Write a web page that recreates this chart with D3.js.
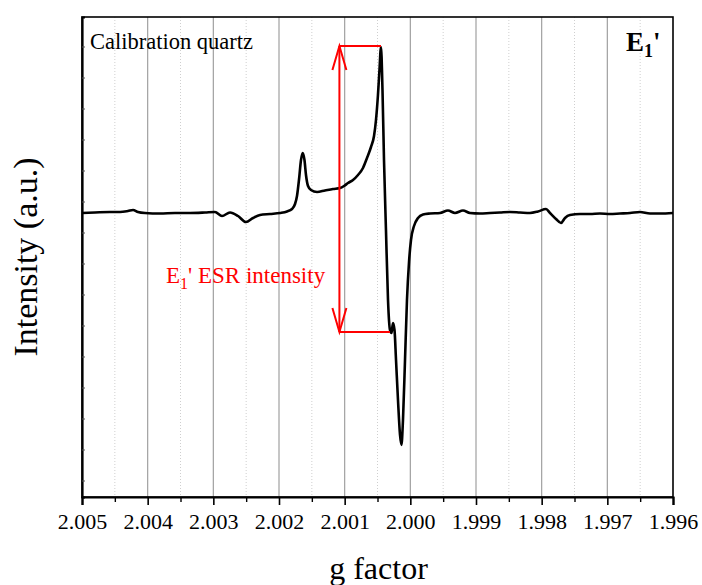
<!DOCTYPE html>
<html>
<head>
<meta charset="utf-8">
<script src="https://cdn.jsdelivr.net/npm/d3@7"></script>
<style>
  html, body { margin: 0; padding: 0; background: #fff; }
  svg { display: block; }
  svg text { font-family: "Liberation Serif", "Times New Roman", Times, "DejaVu Serif", serif !important; }
</style>
</head>
<body>
<svg id="chart" width="702" height="585"></svg>
<script>
// ---- data ----
const gFactor = [
  2.005000, 2.004802, 2.004574, 2.004421, 2.004300, 2.004223, 2.004147, 2.004041,
  2.003812, 2.003584, 2.003355, 2.003127, 2.002975, 2.002868, 2.002746, 2.002624,
  2.002503, 2.002396, 2.002289, 2.002137, 2.001985, 2.001878, 2.001802, 2.001756,
  2.001726, 2.001696, 2.001665, 2.001639, 2.001612, 2.001589, 2.001558, 2.001513,
  2.001421, 2.001300, 2.001178, 2.001071, 2.001010, 2.000949, 2.000873, 2.000797,
  2.000721, 2.000660, 2.000599, 2.000553, 2.000523, 2.000493, 2.000470, 2.000447,
  2.000424, 2.000401, 2.000371, 2.000340, 2.000310, 2.000287, 2.000264, 2.000241,
  2.000218, 2.000188, 2.000157, 2.000135, 2.000112, 2.000081, 2.000051, 2.000020,
  1.999990, 1.999944, 1.999883, 1.999807, 1.999701, 1.999548, 1.999427, 1.999320,
  1.999198, 1.999092, 1.998939, 1.998787, 1.998635, 1.998482, 1.998330, 1.998178,
  1.998056, 1.997934, 1.997873, 1.997782, 1.997706, 1.997645, 1.997569, 1.997416,
  1.997264, 1.997112, 1.996960, 1.996807, 1.996655, 1.996503, 1.996350, 1.996198,
  1.996000
];
const intensity = [
  -0.5, 0, 0.5, 0.5, 1.5, 2.5, 0.5, -0.5,
  -1, -0.5, -0.5, 0, 0.5, -3.5, 0, -3.5,
  -9.5, -5.5, -2.5, -1.5, -0.5, 1, 3.5, 8.5,
  16.5, 32.5, 52.5, 59.5, 52.5, 37.5, 26.5, 22.5,
  20.5, 22, 23.5, 24.5, 26.5, 29.5, 32.5, 37.5,
  44.5, 54.5, 65.5, 76.5, 92.5, 117.5, 142.5, 165.5,
  122.5, 52.5, -17.5, -87.5, -117.5, -120.5, -110.5, -117.5,
  -147.5, -187.5, -222.5, -232.5, -207.5, -147.5, -87.5, -49.5,
  -27.5, -13.5, -5.5, -2, -1, -0.5, 2, -0.5,
  2, -0.5, -1, -0.5, 0, 0.5, 0, -0.5,
  1, 3.5, -0.5, -6.5, -10.5, -5.5, -2.5, -1.5,
  -1.5, -1, -1.5, -1, -0.5, 0.5, -1, -1,
  -0.5
];
const xTickLabels = ["2.005", "2.004", "2.003", "2.002", "2.001", "2.000", "1.999", "1.998", "1.997", "1.996"];
const xDomain = [2.005, 1.996];
const yDomain = [-284.5, 195.5];

// annotation (E1' ESR intensity: peak-to-peak)
const annotG = [2.00108];                 // position of the double arrow
const annotPeakG = [2.000447, 2.000310];  // ends of horizontal guides (top, bottom)
const annotI = [166.5, -119.5];           // top and bottom intensities

// ---- layout ----
const FONT = '"Liberation Serif", "Times New Roman", Times, "DejaVu Serif", serif';
const margin = { left: 82, top: 17, right: 29, bottom: 88 };
const W = 702, H = 585;
const iw = W - margin.left - margin.right;
const ih = H - margin.top - margin.bottom;

const svg = d3.select("#chart").attr("font-family", FONT);
const g = svg.append("g").attr("transform", `translate(${margin.left},${margin.top})`);

const x = d3.scaleLinear().domain(xDomain).range([0, iw]);
const y = d3.scaleLinear().domain(yDomain).range([ih, 0]);

const majorX = xTickLabels.map(Number);
const minorX = d3.range(0, 9).map(i => 2.0045 - i * 0.001);

// minor gridlines (dotted)
g.selectAll(".gminor").data(minorX).join("line")
  .attr("x1", d => x(d)).attr("x2", d => x(d))
  .attr("y1", 0).attr("y2", ih)
  .attr("stroke", "#cfcfcf").attr("stroke-width", 1)
  .attr("stroke-dasharray", "1,2");
// major gridlines
g.selectAll(".gmajor").data(majorX.slice(1, -1)).join("line")
  .attr("x1", d => x(d)).attr("x2", d => x(d))
  .attr("y1", 0).attr("y2", ih)
  .attr("stroke", "#a0a0a0").attr("stroke-width", 1.2);

// spectrum
const line = d3.line()
  .x((d, i) => x(gFactor[i]))
  .y(d => y(d))
  .curve(d3.curveMonotoneX);
g.append("path").datum(intensity)
  .attr("d", line)
  .attr("fill", "none")
  .attr("stroke", "#000")
  .attr("stroke-width", 2.6)
  .attr("stroke-linejoin", "round");

// annotation
const red = "#ff0000";
const ax = x(annotG[0]);
const yTop = y(annotI[0]), yBot = y(annotI[1]);
const ann = g.append("g").attr("stroke", red).attr("stroke-width", 2).attr("fill", "none");
ann.append("line").attr("x1", ax).attr("x2", ax).attr("y1", yTop).attr("y2", yBot);
ann.append("line").attr("x1", ax).attr("x2", x(annotPeakG[0])).attr("y1", yTop).attr("y2", yTop);
ann.append("line").attr("x1", ax).attr("x2", x(annotPeakG[1])).attr("y1", yBot).attr("y2", yBot);
ann.append("path").attr("d", `M${ax - 7},${yTop + 24}L${ax},${yTop}L${ax + 7},${yTop + 24}`);
ann.append("path").attr("d", `M${ax - 7},${yBot - 24}L${ax},${yBot}L${ax + 7},${yBot - 24}`);

const annText = g.append("text")
  .attr("x", x(2.003720)).attr("y", y(-70.5))
  .attr("fill", red).attr("font-size", 23);
annText.append("tspan").text("E");
annText.append("tspan").attr("font-size", 16).attr("dy", 6).text("1");
annText.append("tspan").attr("dy", -6).text("' ESR intensity");

// frame
g.append("rect").attr("x", 0).attr("y", 0).attr("width", iw).attr("height", ih)
  .attr("fill", "none").attr("stroke", "#000").attr("stroke-width", 1.6);

// x axis
const xAxis = d3.axisBottom(x).tickValues(majorX)
  .tickFormat((d, i) => xTickLabels[i]).tickSize(8).tickPadding(8);
const xa = g.append("g").attr("transform", `translate(0,${ih})`).call(xAxis);
xa.attr("font-family", FONT);
xa.select(".domain").attr("stroke-width", 2.2);
xa.selectAll(".tick line").attr("stroke-width", 1.6);
xa.selectAll("text").attr("font-size", 22).attr("fill", "#000");
const xMinorAxis = d3.axisBottom(x).tickValues(minorX).tickFormat("").tickSize(5);
const xm = g.append("g").attr("transform", `translate(0,${ih})`).call(xMinorAxis);
xm.select(".domain").remove();
xm.selectAll(".tick line").attr("stroke-width", 1.4);

// y axis (no labels, faint inner ticks)
const yMinor = d3.range(-268, 196, 31);
const yAxis = d3.axisLeft(y).tickValues(yMinor).tickFormat("").tickSize(-3);
const ya = g.append("g").call(yAxis);
ya.select(".domain").attr("stroke-width", 2.2);
ya.selectAll(".tick line").attr("stroke", "#555").attr("stroke-width", 1);

// axis titles
svg.append("text")
  .attr("x", margin.left + iw / 2 + 1).attr("y", 579)
  .attr("text-anchor", "middle").attr("font-size", 32).text("g factor");
svg.append("text")
  .attr("transform", `translate(37,${margin.top + ih / 2}) rotate(-90)`)
  .attr("text-anchor", "middle").attr("font-size", 34).text("Intensity (a.u.)");

// labels inside plot
svg.append("text").attr("x", 90).attr("y", 49).attr("font-size", 22.5).text("Calibration quartz");
const e1 = svg.append("text").attr("x", 626).attr("y", 51)
  .attr("font-size", 27).attr("font-weight", "bold");
e1.append("tspan").text("E");
e1.append("tspan").attr("font-size", 18).attr("dy", 6).text("1");
e1.append("tspan").attr("dy", -6).text("'");
</script>
</body>
</html>
